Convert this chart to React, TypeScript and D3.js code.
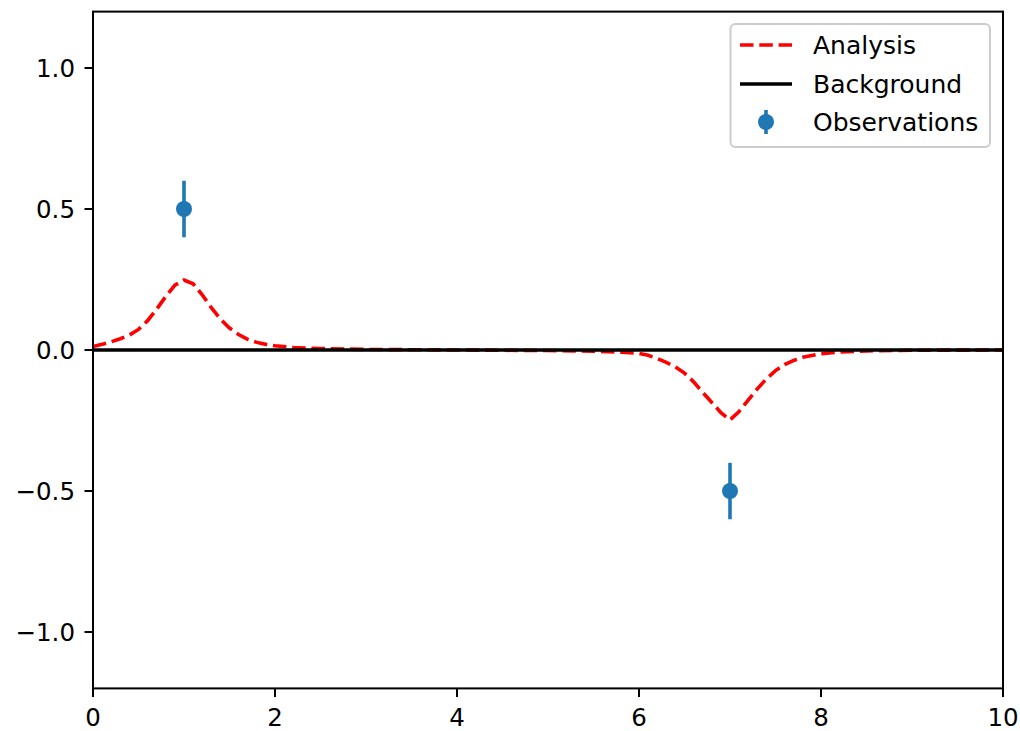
import React from "react";
import * as d3 from "d3";

const analysisX = [0, 0.1, 0.2, 0.3, 0.4, 0.5, 0.6, 0.7, 0.8, 0.9, 1.0, 1.1, 1.2, 1.3, 1.4, 1.5, 1.6, 1.7, 1.8, 1.9, 2.0, 2.2, 2.5, 3.0, 4.0, 5.0, 5.5, 5.8, 6.0, 6.1, 6.2, 6.3, 6.4, 6.5, 6.6, 6.7, 6.8, 6.9, 7.0, 7.1, 7.2, 7.3, 7.4, 7.5, 7.6, 7.7, 7.8, 8.0, 8.2, 8.5, 9.0, 10.0];
const analysisY = [0.012, 0.02, 0.029, 0.04, 0.053, 0.073, 0.104, 0.145, 0.19, 0.23, 0.248, 0.235, 0.196, 0.15, 0.11, 0.078, 0.055, 0.038, 0.027, 0.02, 0.015, 0.009, 0.005, 0.002, 0.0, -0.002, -0.004, -0.008, -0.012, -0.019, -0.03, -0.044, -0.06, -0.082, -0.113, -0.15, -0.186, -0.222, -0.248, -0.218, -0.178, -0.138, -0.102, -0.073, -0.052, -0.037, -0.026, -0.013, -0.007, -0.003, -0.001, 0.0];

const backgroundX = [0, 10];
const backgroundY = [0, 0];

const obsX = [1, 7];
const obsY = [0.5, -0.5];
const obsErr = [0.1, 0.1];

const xTicks = [0, 2, 4, 6, 8, 10];
const yTicks = [-1.0, -0.5, 0.0, 0.5, 1.0];

const legendLabels = ["Analysis", "Background", "Observations"];

const W = 1020;
const H = 731;
const left = 93;
const right = 1003;
const top = 11.6;
const bottom = 688.4;

export default function App() {
  const x = d3.scaleLinear().domain([0, 10]).range([left, right]);
  const y = d3.scaleLinear().domain([-1.2, 1.2]).range([bottom, top]);
  const font = "'DejaVu Sans', sans-serif";
  const blue = "#1f77b4";
  const lw = 3.6;
  const dash = "13.5 5.8";
  const fs = 24.5;
  const tickLen = 8.5;

  const analysisLine = d3
    .line<number>()
    .x((_, i) => x(analysisX[i]))
    .y((d) => y(d))
    .curve(d3.curveLinear)(analysisY) as string;

  const bgLine = d3
    .line<number>()
    .x((_, i) => x(backgroundX[i]))
    .y((d) => y(d))(backgroundY) as string;

  const legY = [45, 84, 122];

  return (
    <svg
      width={W}
      height={H}
      style={{ position: "absolute", left: 0, top: 0, background: "white" }}
      fontFamily={font}
    >
      <rect x={0} y={0} width={W} height={H} fill="white" />
      <defs>
        <clipPath id="plotclip">
          <rect x={left} y={top} width={right - left} height={bottom - top} />
        </clipPath>
      </defs>
      <g clipPath="url(#plotclip)">
        <path
          d={analysisLine}
          fill="none"
          stroke="#ff0000"
          strokeWidth={lw}
          strokeDasharray={dash}
        />
        <path d={bgLine} fill="none" stroke="#000" strokeWidth={lw} />
        {obsX.map((ox, i) => (
          <g key={i}>
            <line
              x1={x(ox)}
              x2={x(ox)}
              y1={y(obsY[i] - obsErr[i])}
              y2={y(obsY[i] + obsErr[i])}
              stroke={blue}
              strokeWidth={lw}
            />
            <circle cx={x(ox)} cy={y(obsY[i])} r={8} fill={blue} />
          </g>
        ))}
      </g>
      {/* spines */}
      <rect
        x={left}
        y={top}
        width={right - left}
        height={bottom - top}
        fill="none"
        stroke="#000"
        strokeWidth={2}
      />
      {/* x ticks */}
      {xTicks.map((t) => (
        <g key={"x" + t}>
          <line x1={x(t)} x2={x(t)} y1={bottom} y2={bottom + tickLen} stroke="#000" strokeWidth={2} />
          <text x={x(t)} y={726} textAnchor="middle" fontSize={fs} fill="#000">
            {String(t)}
          </text>
        </g>
      ))}
      {/* y ticks */}
      {yTicks.map((t) => (
        <g key={"y" + t}>
          <line x1={left - tickLen} x2={left} y1={y(t)} y2={y(t)} stroke="#000" strokeWidth={2} />
          <text
            x={75}
            y={y(t)}
            textAnchor="end"
            dominantBaseline="central"
            fontSize={fs}
            fill="#000"
          >
            {t < 0 ? "\u2212" + Math.abs(t).toFixed(1) : t.toFixed(1)}
          </text>
        </g>
      ))}
      {/* legend */}
      <rect
        x={730.5}
        y={24}
        width={259.5}
        height={123}
        rx={5}
        fill="white"
        fillOpacity={0.8}
        stroke="#cccccc"
        strokeWidth={2}
      />
      <line x1={740} x2={792} y1={legY[0]} y2={legY[0]} stroke="#ff0000" strokeWidth={lw} strokeDasharray={dash} />
      <line x1={740} x2={792} y1={legY[1]} y2={legY[1]} stroke="#000" strokeWidth={lw} />
      <line x1={766} x2={766} y1={legY[2] - 12} y2={legY[2] + 12} stroke={blue} strokeWidth={lw} />
      <circle cx={766} cy={legY[2]} r={8} fill={blue} />
      {legendLabels.map((l, i) => (
        <text
          key={l}
          x={813}
          y={legY[i]}
          dominantBaseline="central"
          fontSize={25}
          fill="#000"
        >
          {l}
        </text>
      ))}
    </svg>
  );
}
